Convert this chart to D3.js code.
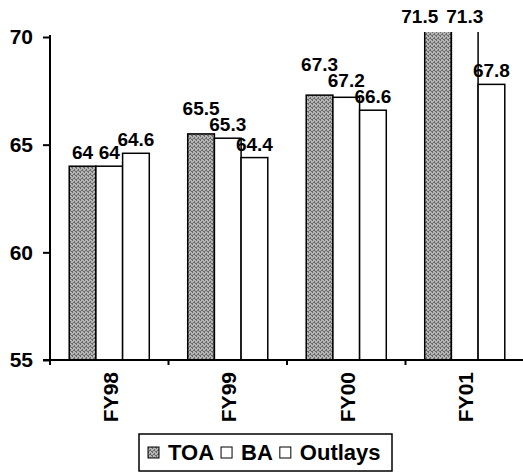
<!DOCTYPE html>
<html><head><meta charset="utf-8">
<script src="https://cdn.jsdelivr.net/npm/d3@7"></script>
<style>html,body{margin:0;padding:0;background:#fff;}svg{display:block;}</style>
</head><body>
<script>
const categories = ["FY98", "FY99", "FY00", "FY01"];
const seriesNames = ["TOA", "BA", "Outlays"];
const toaValues = [64, 65.5, 67.3, 71.5];
const baValues = [64, 65.3, 67.2, 71.3];
const outlaysValues = [64.6, 64.4, 66.6, 67.8];
const yTicks = [55, 60, 65, 70];

(function () {
const W = 523, H = 472;
const font = "'Liberation Sans', Arial, Helvetica, sans-serif";
const svg = d3.select("body").append("svg").attr("width", W).attr("height", H);

const defs = svg.append("defs");
const pat = defs.append("pattern").attr("id", "stip").attr("patternUnits", "userSpaceOnUse")
  .attr("width", 4).attr("height", 4);
pat.append("rect").attr("width", 4).attr("height", 4).attr("fill", "#b4b4b4");
[[0,0],[2,1],[1,2],[3,3],[0,3],[2,2]].forEach(([a,b]) =>
  pat.append("rect").attr("x", a).attr("y", b).attr("width", 1).attr("height", 1).attr("fill", "#6a6a6a"));
const clipTop = 32;
defs.append("clipPath").attr("id", "plotclip").append("rect")
  .attr("x", 0).attr("y", clipTop).attr("width", W).attr("height", 360 - clipTop);

const pL = 50, pR = 524, pB = 360, pT = 37;
const x = d3.scaleBand().domain(categories).range([pL, pR]).paddingInner(0).paddingOuter(0);
const x1 = d3.scaleBand().domain(seriesNames).range([0, x.bandwidth()]).paddingInner(0).paddingOuter(0.72);
const y = d3.scaleLinear().domain([55, 70]).range([pB, pT]);

const data = categories.map((c, i) => ({
  cat: c,
  vals: [
    {s: "TOA", v: toaValues[i]},
    {s: "BA", v: baValues[i]},
    {s: "Outlays", v: outlaysValues[i]}
  ]
}));
const fills = {TOA: "url(#stip)", BA: "#fff", Outlays: "#fff"};

// bars
const barsG = svg.append("g").attr("clip-path", "url(#plotclip)");
data.forEach(d => {
  barsG.selectAll(null).data(d.vals).enter().append("rect")
    .attr("x", e => x(d.cat) + x1(e.s))
    .attr("y", e => y(e.v))
    .attr("width", x1.bandwidth())
    .attr("height", e => pB - y(e.v))
    .attr("fill", e => fills[e.s])
    .attr("stroke", "#000").attr("stroke-width", 1.5);
});

// value labels with simple collision avoidance
const labelG = svg.append("g").attr("font-family", font).attr("font-weight", "bold")
  .attr("font-size", 19).attr("fill", "#000").attr("text-anchor", "middle");
data.forEach(d => {
  const placed = [];
  for (let k = d.vals.length - 1; k >= 0; k--) {
    const e = d.vals[k];
    let cx = x(d.cat) + x1(e.s) + x1.bandwidth() / 2;
    const t = labelG.append("text").text(e.v);
    const w = t.node().getComputedTextLength();
    const clipped = y(e.v) < clipTop;
    let base = clipped ? clipTop - 9 : y(e.v) - 7;
    const hgt = 15;
    if (clipped) {
      // clipped bars: keep label row at top, shift sideways to avoid overlap
      for (const p of placed) {
        if (p.b === base && cx + w / 2 > p.x0 - 8) cx = p.x0 - 8 - w / 2;
      }
    } else {
      let moved = true;
      while (moved) {
        moved = false;
        for (const p of placed) {
          const hov = Math.min(cx + w / 2, p.x1) - Math.max(cx - w / 2, p.x0);
          const vov = Math.min(base, p.b) - Math.max(base - hgt, p.b - hgt);
          if (hov > 3 && vov > 0) { base = p.b - hgt - 1; moved = true; }
        }
      }
    }
    t.attr("x", cx).attr("y", base);
    placed.push({x0: cx - w / 2, x1: cx + w / 2, b: base});
  }
});

// y axis
const yAxis = svg.append("g").attr("transform", `translate(${pL},0)`)
  .call(d3.axisLeft(y).tickValues(yTicks).tickSize(7).tickPadding(10).tickFormat(d3.format("d")));
yAxis.select(".domain").attr("d", `M0,35V${pB}`).attr("stroke-width", 2);
yAxis.selectAll(".tick line").attr("stroke-width", 2);
yAxis.selectAll("text").attr("font-family", font).attr("font-weight", "bold").attr("font-size", 21).attr("fill", "#000");

// x axis
const tickPos = categories.map(c => x(c)).concat([pR]);
const xg = svg.append("g");
xg.append("line").attr("x1", pL - 7).attr("x2", pR).attr("y1", pB).attr("y2", pB)
  .attr("stroke", "#000").attr("stroke-width", 2);
xg.selectAll(".xt").data(tickPos).enter().append("line")
  .attr("x1", d => d).attr("x2", d => d).attr("y1", pB).attr("y2", pB + 5)
  .attr("stroke", "#000").attr("stroke-width", 2);
xg.selectAll(".xl").data(categories).enter().append("text")
  .attr("transform", d => `translate(${x(d) + x.bandwidth() / 2 + 1},${pB + 12}) rotate(-90)`)
  .attr("text-anchor", "end").attr("dy", "0.36em")
  .attr("font-family", font).attr("font-weight", "bold").attr("font-size", 21).attr("fill", "#000")
  .text(d => d);

// legend
const lg = svg.append("g");
lg.append("rect").attr("x", 139).attr("y", 434).attr("width", 253).attr("height", 37)
  .attr("fill", "#fff").attr("stroke", "#000").attr("stroke-width", 1.5);
let lx = 148;
const ly = 460;
seriesNames.forEach((s) => {
  lg.append("rect").attr("x", lx).attr("y", ly - 13).attr("width", 11).attr("height", 11)
    .attr("fill", fills[s]).attr("stroke", "#000").attr("stroke-width", 1);
  const t = lg.append("text").attr("x", lx + 20).attr("y", ly)
    .attr("font-family", font).attr("font-weight", "bold").attr("font-size", 22).attr("fill", "#000")
    .text(s);
  lx += 20 + t.node().getComputedTextLength() + 7;
});
})();
</script>
</body></html>
